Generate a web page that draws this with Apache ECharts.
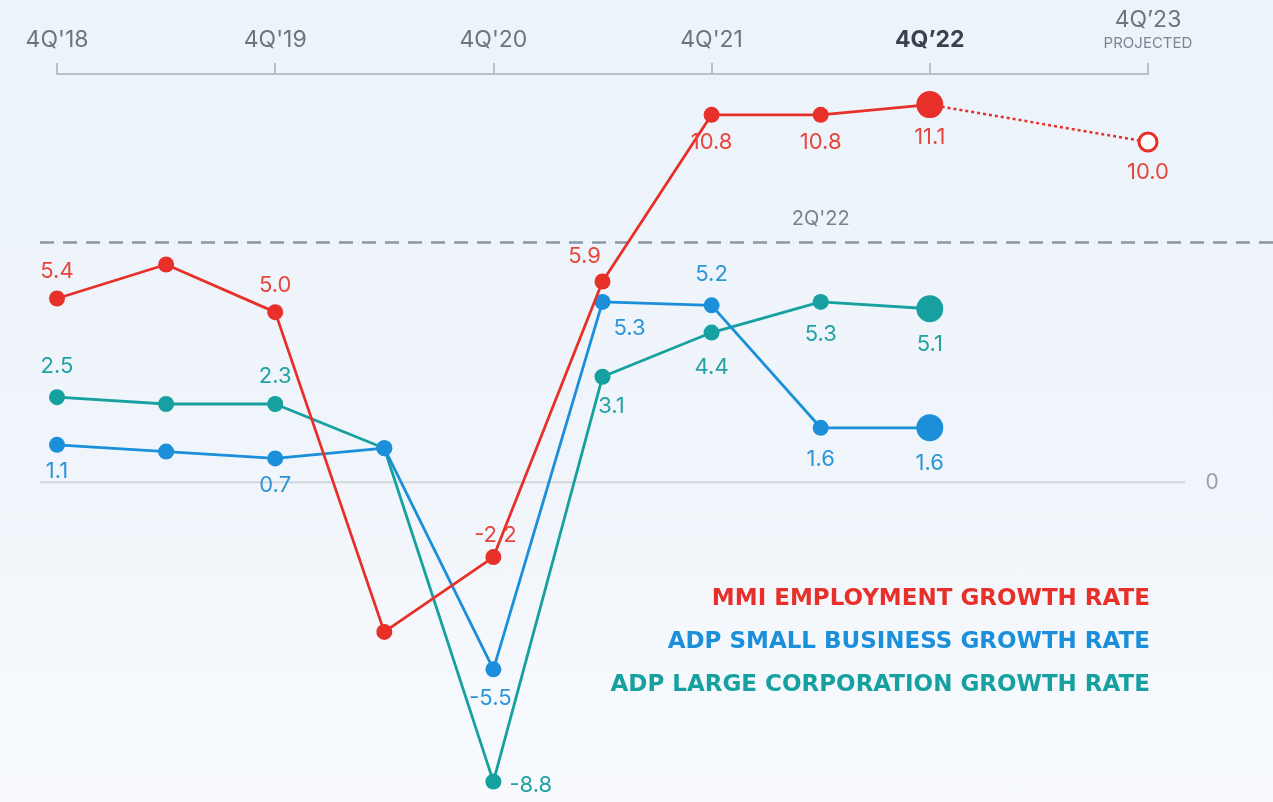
<!DOCTYPE html>
<html>
<head>
<meta charset="utf-8">
<script src="https://cdn.jsdelivr.net/npm/echarts@6/dist/echarts.min.js"></script>
<style>
html,body{margin:0;padding:0;width:1273px;height:802px;overflow:hidden;
  background:linear-gradient(180deg,#ecf3fa 0%,#f0f5fb 55%,#f8fafd 100%);}
#chart{width:1273px;height:802px;}
</style>
</head>
<body>
<div id="chart"></div>
<script>
// ---- data ----
const categories = ["4Q'18","2Q'19","4Q'19","2Q'20","4Q'20","2Q'21","4Q'21","2Q'22","4Q’22","2Q'23","4Q’23"];
const seriesNames = ["MMI EMPLOYMENT GROWTH RATE","ADP SMALL BUSINESS GROWTH RATE","ADP LARGE CORPORATION GROWTH RATE"];
const mmi        = [5.4, 6.4, 5.0, -4.4, -2.2, 5.9, 10.8, 10.8, 11.1, null, null];
const mmiProjected = [null, null, null, null, null, null, null, null, 11.1, null, 10.0];
const smallBiz   = [1.1, 0.9, 0.7, 1.0, -5.5, 5.3, 5.2, 1.6, 1.6, null, null];
const largeCorp  = [2.5, 2.3, 2.3, 1.0, -8.8, 3.1, 4.4, 5.3, 5.1, null, null];
const refLevel = 7.05;          // dashed reference line
const refLabel = "2Q'22";
const projectedText = "PROJECTED";

// ---- styles ----
const RED = '#e8302a', BLUE = '#1b8fd9', TEAL = '#16a0a0';
const RED_L = '#e8453d', BLUE_L = '#2b95d8', TEAL_L = '#22a2a2';
const FONT = 'Inter, Lato, sans-serif';
const LEGEND_FONT = '"DejaVu Sans", Inter, sans-serif';
const LBL = 22;
const labelPos = {
  mmi:   {0:['top',[0,0],8],2:['top',[0,0],8],4:['top',[2,0],3],5:['top',[-18,0],6],6:['bottom',[0,0],9],7:['bottom',[0,0],9],8:['bottom',[0,0],8]},
  small: {0:['bottom',[0,0],8],2:['bottom',[0,0],8],4:['bottom',[-3,0],10],5:['bottom',[27,0],7],6:['top',[0,0],12],7:['bottom',[0,0],13],8:['bottom',[0,0],11]},
  large: {0:['top',[0,0],12],2:['top',[0,0],9],4:['right',[0,4],8],5:['bottom',[9,0],11],6:['bottom',[0,0],16],7:['bottom',[0,0],13],8:['bottom',[0,0],11]}
};
const bigIdx = 8;

function buildData(values, posMap, labelColor) {
  return values.map((v, i) => {
    if (v == null) return null;
    const item = { value: v, symbolSize: i === bigIdx ? 27 : 16 };
    const p = posMap[i];
    if (p) {
      item.label = { show: true, position: p[0], offset: p[1], distance: p[2],
        color: labelColor, fontSize: LBL, fontFamily: FONT, formatter: (o) => o.value.toFixed(1) };
    } else {
      item.label = { show: false };
    }
    return item;
  });
}

const chart = echarts.init(document.getElementById('chart'), null, { renderer: 'canvas' });

const option = {
  animation: false,
  backgroundColor: 'transparent',
  grid: { left: 57, right: 1273 - 1148, top: 74, bottom: 0, containLabel: false },
  xAxis: {
    type: 'category', position: 'top', data: categories, boundaryGap: false,
    axisLine: { onZero: false, lineStyle: { color: '#b9c0c8', width: 2 } },
    axisTick: { show: true, length: 11, interval: (i) => i % 2 === 0, lineStyle: { color: '#b9c0c8', width: 2 } },
    axisLabel: {
      interval: (i) => i % 2 === 0, margin: 21,
      formatter: (v, i) => i === 8 ? '{b|' + v + '}' : (i === 10 ? '{n|' + v + '}\n{p|' + projectedText + '}' : '{n|' + v + '}'),
      rich: {
        n: { fontSize: 23, color: '#6c747d', fontFamily: FONT, lineHeight: 26 },
        b: { fontSize: 23, color: '#38424d', fontWeight: 'bold', fontFamily: FONT, lineHeight: 26 },
        p: { fontSize: 15, color: '#7c8792', fontFamily: FONT, lineHeight: 20 }
      }
    },
    splitLine: { show: false }
  },
  yAxis: {
    type: 'value', min: -9.4, max: 12, show: false, splitLine: { show: false }
  },
  series: [
    {
      name: seriesNames[2], type: 'line', z: 2,
      data: buildData(largeCorp, labelPos.large, TEAL_L),
      symbol: 'circle', lineStyle: { color: TEAL, width: 2.8 }, itemStyle: { color: TEAL }
    },
    {
      name: seriesNames[1], type: 'line', z: 3,
      data: buildData(smallBiz, labelPos.small, BLUE_L),
      symbol: 'circle', lineStyle: { color: BLUE, width: 2.8 }, itemStyle: { color: BLUE }
    },
    {
      name: seriesNames[0] + ' (projected)', type: 'line', z: 4, connectNulls: true,
      data: mmiProjected.map((v, i) => v == null ? null : (i === 10 ? {
        value: v, symbol: 'circle', symbolSize: 18,
        itemStyle: { color: '#ffffff', borderColor: RED, borderWidth: 3 },
        label: { show: true, position: 'bottom', distance: 9, color: RED_L, fontSize: LBL, fontFamily: FONT, formatter: (o) => o.value.toFixed(1) }
      } : { value: v, symbol: 'none' })),
      showSymbol: true,
      lineStyle: { color: RED, width: 2.5, type: [3, 3] }
    },
    {
      name: seriesNames[0], type: 'line', z: 5,
      data: buildData(mmi, labelPos.mmi, RED_L),
      symbol: 'circle', lineStyle: { color: RED, width: 2.8 }, itemStyle: { color: RED }
    }
  ]
};
chart.setOption(option);

// decorations positioned through the chart's own scales
const y0 = chart.convertToPixel({ yAxisIndex: 0 }, 0);
const yRef = chart.convertToPixel({ yAxisIndex: 0 }, refLevel);
const xRefLbl = chart.convertToPixel({ xAxisIndex: 0 }, 7);
const legendColors = [RED, BLUE, TEAL];
const legendY = [599, 642, 685];
chart.setOption({
  graphic: [
    { type: 'line', z: 0, shape: { x1: 40, y1: y0, x2: 1185, y2: y0 }, style: { stroke: '#d2d7dc', lineWidth: 2 } },
    { type: 'text', z: 0, x: 1212, y: y0, style: { text: '0', fill: '#9aa1a8', fontSize: 21, fontFamily: FONT, align: 'center', verticalAlign: 'middle' } },
    { type: 'line', z: 0, shape: { x1: 40, y1: yRef, x2: 1273, y2: yRef }, style: { stroke: '#8a96a2', lineWidth: 2.5, lineDash: [14, 9] } },
    { type: 'text', z: 0, x: xRefLbl, y: yRef - 23, style: { text: refLabel, fill: '#7b8189', fontSize: 20, fontFamily: FONT, align: 'center', verticalAlign: 'middle' } }
  ].concat(seriesNames.map((n, i) => ({
    type: 'text', z: 10, x: 1150, y: legendY[i],
    style: { text: n, fill: legendColors[i], fontSize: 23, fontWeight: 'bold', fontFamily: LEGEND_FONT, align: 'right', verticalAlign: 'middle' }
  })))
});
</script>
</body>
</html>
